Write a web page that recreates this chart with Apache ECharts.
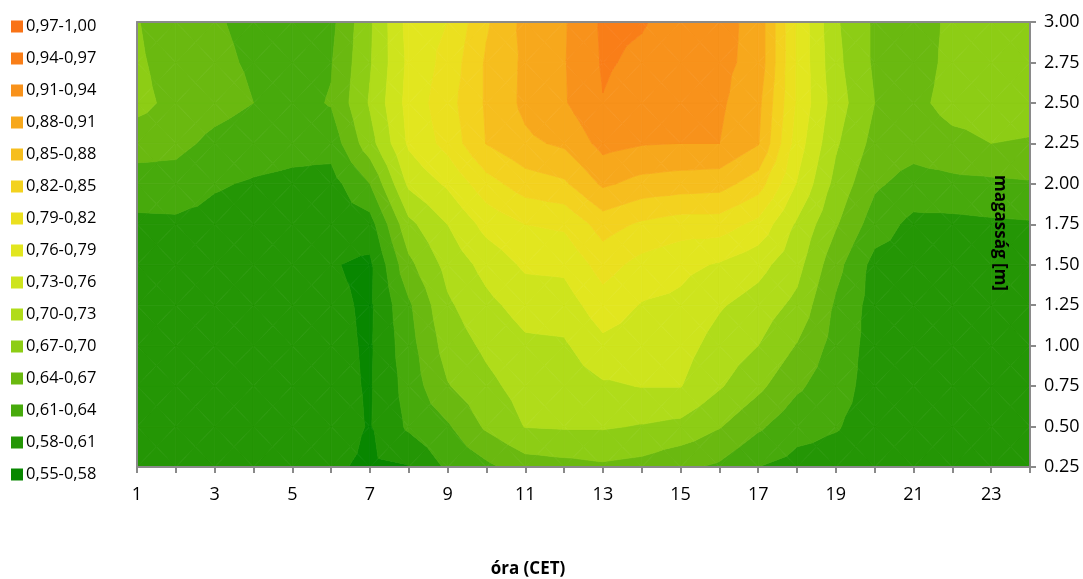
<!DOCTYPE html>
<html>
<head>
<meta charset="utf-8">
<script src="https://cdn.jsdelivr.net/npm/echarts@6/dist/echarts.min.js"></script>
<style>
html, body { margin: 0; padding: 0; background: #fff; }
#chart { width: 1083px; height: 579px; }
</style>
</head>
<body>
<div id="chart"></div>
<script>
// hours (CET) and heights (m)
var hours = [1, 2, 3, 4, 5, 6, 7, 8, 9, 10, 11, 12, 13, 14, 15, 16, 17, 18, 19, 20, 21, 22, 23, 24];
var heights = [0.25, 0.5, 0.75, 1.0, 1.25, 1.5, 1.75, 2.0, 2.25, 2.5, 2.75, 3.0];

// one row per height, values for hours 1..24
var z025 = [0.595, 0.595, 0.595, 0.595, 0.595, 0.584, 0.575, 0.579, 0.615, 0.633, 0.655, 0.660, 0.665, 0.660, 0.645, 0.635, 0.610, 0.600, 0.598, 0.595, 0.596, 0.596, 0.596, 0.596];
var z050 = [0.595, 0.595, 0.595, 0.595, 0.595, 0.593, 0.578, 0.615, 0.636, 0.675, 0.701, 0.703, 0.703, 0.698, 0.692, 0.672, 0.645, 0.620, 0.612, 0.598, 0.596, 0.596, 0.596, 0.596];
var z075 = [0.595, 0.595, 0.595, 0.595, 0.595, 0.590, 0.577, 0.622, 0.668, 0.692, 0.712, 0.715, 0.726, 0.731, 0.731, 0.703, 0.677, 0.645, 0.622, 0.598, 0.596, 0.596, 0.596, 0.596];
var z100 = [0.595, 0.595, 0.595, 0.595, 0.595, 0.589, 0.576, 0.628, 0.683, 0.706, 0.724, 0.726, 0.752, 0.745, 0.742, 0.718, 0.700, 0.668, 0.628, 0.598, 0.596, 0.596, 0.596, 0.596];
var z125 = [0.596, 0.596, 0.595, 0.595, 0.595, 0.587, 0.575, 0.635, 0.695, 0.722, 0.742, 0.745, 0.777, 0.758, 0.753, 0.733, 0.717, 0.692, 0.635, 0.598, 0.596, 0.596, 0.596, 0.596];
var z150 = [0.597, 0.597, 0.596, 0.595, 0.595, 0.582, 0.574, 0.662, 0.710, 0.740, 0.765, 0.767, 0.802, 0.780, 0.768, 0.757, 0.740, 0.710, 0.650, 0.600, 0.597, 0.596, 0.596, 0.596];
var z175 = [0.603, 0.604, 0.600, 0.596, 0.596, 0.595, 0.597, 0.692, 0.730, 0.770, 0.790, 0.795, 0.833, 0.815, 0.805, 0.805, 0.781, 0.725, 0.673, 0.625, 0.602, 0.602, 0.605, 0.607];
var z200 = [0.627, 0.628, 0.613, 0.607, 0.603, 0.598, 0.640, 0.736, 0.765, 0.808, 0.835, 0.845, 0.885, 0.870, 0.865, 0.862, 0.834, 0.758, 0.690, 0.645, 0.628, 0.632, 0.634, 0.637];
var z225 = [0.652, 0.648, 0.633, 0.625, 0.620, 0.622, 0.688, 0.765, 0.800, 0.851, 0.874, 0.885, 0.920, 0.912, 0.910, 0.910, 0.882, 0.775, 0.704, 0.660, 0.652, 0.662, 0.670, 0.668];
var z250 = [0.680, 0.660, 0.650, 0.640, 0.630, 0.642, 0.703, 0.771, 0.808, 0.854, 0.887, 0.907, 0.939, 0.928, 0.920, 0.915, 0.888, 0.785, 0.714, 0.670, 0.662, 0.680, 0.682, 0.680];
var z275 = [0.676, 0.653, 0.645, 0.637, 0.627, 0.638, 0.697, 0.767, 0.800, 0.854, 0.886, 0.908, 0.943, 0.935, 0.925, 0.918, 0.900, 0.785, 0.708, 0.665, 0.656, 0.678, 0.682, 0.680];
var z300 = [0.672, 0.646, 0.642, 0.635, 0.625, 0.632, 0.695, 0.771, 0.790, 0.846, 0.889, 0.907, 0.945, 0.942, 0.930, 0.920, 0.900, 0.785, 0.704, 0.665, 0.656, 0.676, 0.680, 0.680];
var grid = [z025, z050, z075, z100, z125, z150, z175, z200, z225, z250, z275, z300];

// contour bands
var bandLo = [0.55, 0.58, 0.61, 0.64, 0.67, 0.70, 0.73, 0.76, 0.79, 0.82, 0.85, 0.88, 0.91, 0.94, 0.97];
var bandHi = [0.58, 0.61, 0.64, 0.67, 0.70, 0.73, 0.76, 0.79, 0.82, 0.85, 0.88, 0.91, 0.94, 0.97, 1.00];
var bandColors = ['#088700', '#249605', '#47aa0c', '#6ab910', '#8dcd15', '#b0dc1a', '#cee41d', '#e2e61f',
                  '#ebe01f', '#f3d21f', '#f6be1e', '#f7a81c', '#f8921b', '#f97e18', '#f97316'];

function fmt(v) { return v.toFixed(2).replace('.', ','); }
var bandNames = bandLo.map(function (lo, k) { return fmt(lo) + '-' + fmt(bandHi[k]); });

// cells: corners and their values
var cells = [];
for (var j = 0; j < heights.length - 1; j++) {
    for (var i = 0; i < hours.length - 1; i++) {
        cells.push([hours[i], heights[j], hours[i + 1], heights[j + 1],
            grid[j][i], grid[j][i + 1], grid[j + 1][i], grid[j + 1][i + 1]]);
    }
}

// keep the part of a polygon where sign*(v - t) >= 0
function clip(poly, t, sign) {
    var out = [];
    for (var i = 0; i < poly.length; i++) {
        var p = poly[i], q = poly[(i + 1) % poly.length];
        var fp = sign * (p.v - t), fq = sign * (q.v - t);
        if (fp >= 0) out.push(p);
        if ((fp >= 0) !== (fq >= 0)) {
            var s = fp / (fp - fq);
            out.push({ x: p.x + s * (q.x - p.x), y: p.y + s * (q.y - p.y), v: t });
        }
    }
    return out;
}

function makeRender(k) {
    var lo = k === 0 ? -Infinity : bandLo[k];
    var hi = k === bandLo.length - 1 ? Infinity : bandHi[k];
    var color = bandColors[k];
    return function (params, api) {
        var x0 = api.value(0), y0 = api.value(1), x1 = api.value(2), y1 = api.value(3);
        var a = api.value(4), b = api.value(5), c = api.value(6), d = api.value(7);
        var P = [{ x: x0, y: y0, v: a }, { x: x1, y: y0, v: b }, { x: x1, y: y1, v: d }, { x: x0, y: y1, v: c }];
        var M = { x: (x0 + x1) / 2, y: (y0 + y1) / 2, v: (a + b + c + d) / 4 };
        var children = [];
        for (var t = 0; t < 4; t++) {
            var poly = clip(clip([P[t], P[(t + 1) % 4], M], lo, 1), hi, -1);
            if (poly.length < 3) continue;
            children.push({
                type: 'polygon',
                shape: { points: poly.map(function (p) { return api.coord([p.x, p.y]); }) },
                style: { fill: color, stroke: color, lineWidth: 0.8 }
            });
        }
        return { type: 'group', children: children };
    };
}

var series = bandNames.map(function (name, k) {
    return {
        name: name,
        type: 'custom',
        renderItem: makeRender(k),
        itemStyle: { color: bandColors[k] },
        encode: { x: [0, 2], y: [1, 3] },
        clip: true,
        silent: true,
        data: cells
    };
});

var myChart = echarts.init(document.getElementById('chart'));
var option = {
    animation: false,
    textStyle: { fontFamily: 'Open Sans' },
    grid: { left: 137, right: 53, top: 22, bottom: 112 },
    legend: {
        orient: 'vertical',
        left: 11,
        top: 18,
        padding: 0,
        icon: 'rect',
        itemWidth: 12,
        itemHeight: 12,
        itemGap: 15,
        textStyle: { fontSize: 16.5, color: '#000', lineHeight: 16, padding: [0, 0, 0, -2] },
        data: bandNames.slice().reverse()
    },
    xAxis: [{
        type: 'value',
        min: 1,
        max: 24,
        interval: 1,
        z: 10,
        axisLine: { lineStyle: { color: '#8a8a8a', width: 2 } },
        axisTick: { length: 6, lineStyle: { color: '#8a8a8a', width: 2 } },
        axisLabel: {
            margin: 19,
            fontSize: 18,
            color: '#000',
            formatter: function (v) { return v % 2 === 1 ? String(v) : ''; }
        },
        splitLine: { show: false }
    }, {
        type: 'value',
        position: 'top',
        min: 1,
        max: 24,
        z: 10,
        axisLine: { lineStyle: { color: '#8a8a8a', width: 2 } },
        axisTick: { show: false },
        axisLabel: { show: false },
        splitLine: { show: false }
    }],
    yAxis: [{
        type: 'value',
        position: 'right',
        min: 0.25,
        max: 3,
        interval: 0.25,
        z: 10,
        axisLine: { show: true, lineStyle: { color: '#8a8a8a', width: 2 } },
        axisTick: { show: true, length: 6, lineStyle: { color: '#8a8a8a', width: 2 } },
        axisLabel: {
            margin: 14,
            fontSize: 18,
            color: '#000',
            formatter: function (v) { return v.toFixed(2); }
        },
        splitLine: { show: false }
    }, {
        type: 'value',
        position: 'left',
        min: 0.25,
        max: 3,
        z: 10,
        axisLine: { show: true, lineStyle: { color: '#8a8a8a', width: 2 } },
        axisTick: { show: false },
        axisLabel: { show: false },
        splitLine: { show: false }
    }],
    graphic: [{
        type: 'text',
        x: 528,
        y: 569,
        style: { text: 'óra (CET)', fontSize: 17, fontWeight: 'bold', fontFamily: 'Open Sans', fill: '#000', align: 'center', verticalAlign: 'middle' }
    }, {
        type: 'text',
        x: 1000,
        y: 233,
        rotation: -Math.PI / 2,
        z: 20,
        style: { text: 'magasság [m]', fontSize: 17, fontWeight: 'bold', fontFamily: 'Open Sans', fill: '#000', align: 'center', verticalAlign: 'middle' }
    }],
    series: series
};
myChart.setOption(option);
</script>
</body>
</html>
